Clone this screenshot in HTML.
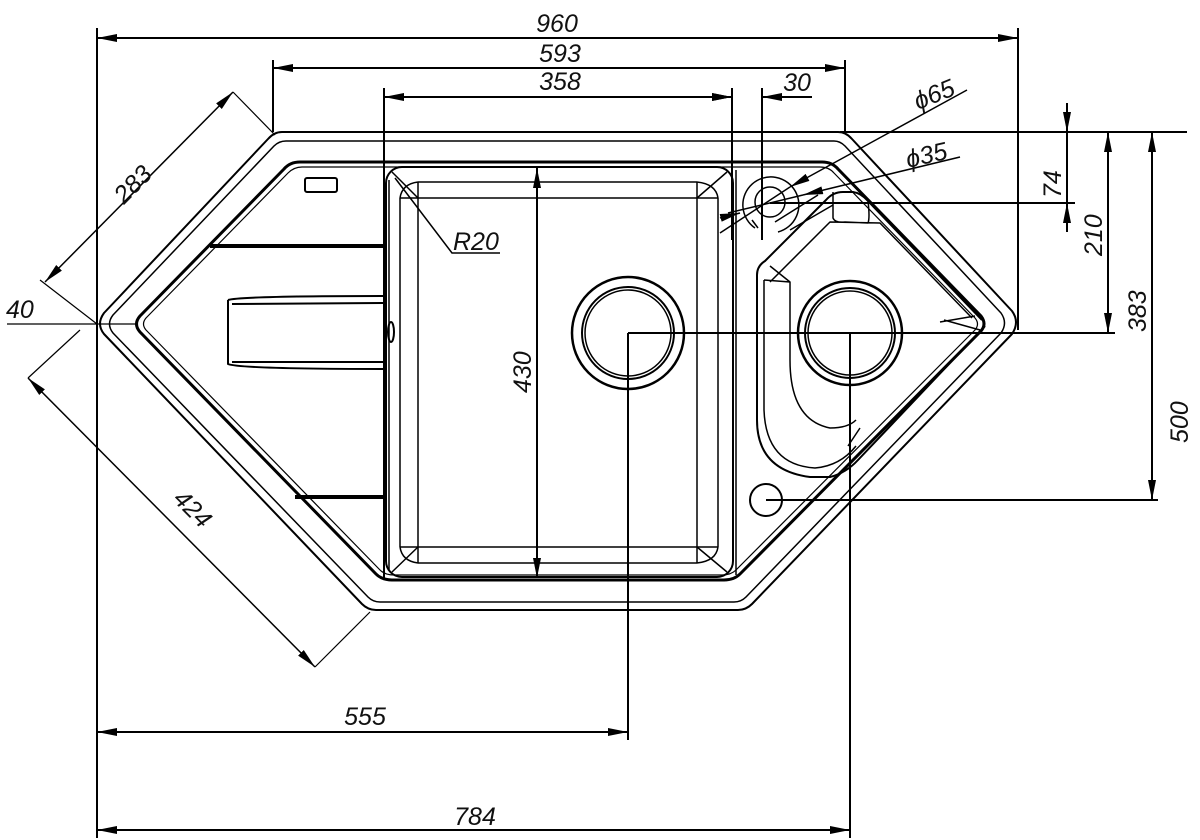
<!DOCTYPE html>
<html><head><meta charset="utf-8"><style>
html,body{margin:0;padding:0;background:#fff;}
svg{display:block;}
text{font-family:"Liberation Sans",sans-serif;font-style:italic;font-size:25px;fill:#111;}
</style></head><body>
<svg width="1200" height="840" viewBox="0 0 1200 840" xmlns="http://www.w3.org/2000/svg">
<defs>
<marker id="a" viewBox="0 0 20 8" refX="20" refY="4" markerWidth="20" markerHeight="8" markerUnits="userSpaceOnUse" orient="auto-start-reverse"><path d="M0,0 L20,4 L0,8 z" fill="#000"/></marker>
</defs>
<g fill="none" stroke="#000" stroke-linejoin="round">
<!-- outer rim -->
<path stroke-width="2" d="M282,132 L838,132 Q846,132 852,139 L1012,311 Q1020,322 1012,334 L752,604 Q746,610 738,610 L376,610 Q368,610 362,604 L104,334 Q96,324 104,313 L268,139 Q274,132 282,132 Z"/>
<path stroke-width="1.5" d="M286,141 L834,141 Q840,141 845,146 L1001,313 Q1008,323 1001,333 L746,597 Q741,602 734,602 L380,602 Q373,602 368,597 L113,333 Q106,324 113,315 L274,146 Q279,141 286,141 Z"/>
<!-- recess -->
<path stroke-width="3" d="M300,162 L822,162 Q832,162 838,169 L981,316 Q987,324 981,331 L740,574 Q734,580 724,580 L392,580 Q382,580 376,574 L140,332 Q133,324 140,316 L284,169 Q290,162 300,162 Z"/>
<path stroke-width="1.2" d="M302,167 L820,167 Q829,167 834,173 L975,318 Q980,324 975,330 L736,570 Q731,575 722,575 L394,575 Q385,575 380,570 L146,330 Q141,324 146,318 L288,173 Q294,167 302,167 Z"/>
<!-- drainer -->
<rect x="305" y="178" width="32" height="14" rx="2" stroke-width="2"/>
<line x1="210" y1="246" x2="386" y2="246" stroke-width="4"/>
<line x1="295" y1="497" x2="386" y2="497" stroke-width="4"/>
<path stroke-width="2" d="M228,300 Q240,296 386,296 M228,300 L228,364 Q240,369 386,369 M232,304 L386,303 M232,362 L386,362"/>
<line x1="384" y1="168" x2="384" y2="578" stroke-width="2"/>
<line x1="389" y1="180" x2="389" y2="570" stroke-width="1.5"/>
<ellipse cx="391" cy="332" rx="3" ry="10" stroke-width="2"/>
<!-- main bowl -->
<rect x="386" y="167" width="347" height="410" rx="16" stroke-width="2"/>
<path stroke-width="1.5" d="M400,198 L400,547 M418,182 L418,563 M697,182 L697,563 M718,198 L718,547 M418,182 L697,182 M400,198 L718,198 M400,547 L718,547 M418,563 L697,563"/>
<path stroke-width="1.5" d="M400,198 Q402,184 418,182 M697,182 Q716,184 718,198 M718,547 Q716,561 697,563 M418,563 Q402,561 400,547 M392,172 L418,198 M727,172 L697,198 M392,572 L418,547 M727,572 L697,547"/>
<line x1="736" y1="170" x2="736" y2="575" stroke-width="1.5"/>
<!-- right bowl -->
<path stroke-width="2" d="M757,275 Q757,266 765,261 L826,200 Q833,192 843,192 L853,192 Q861,193 868,201 L982,320 M757,275 L757,420 Q757,470 810,477 L830,477 Q846,473 858,460 L985,326"/>
<path stroke-width="1.5" d="M764,280 L764,410 Q766,465 815,468 Q840,466 856,446 M770,282 L830,222 L880,223 L972,318 M833,192 L833,218 Q835,223 845,222 L868,223 Q870,218 868,201 M764,280 L790,282 L790,360 Q790,420 830,428 Q848,428 856,420 M790,282 L770,266 M860,428 L848,446 M940,322 L975,316 M944,320 L980,330"/>
<path stroke-width="1.5" d="M775,222 L818,195 M790,230 L833,205"/>
<!-- drains -->
<circle cx="628" cy="333" r="56" stroke-width="2.5"/>
<circle cx="628" cy="333" r="46" stroke-width="2"/>
<circle cx="628" cy="333" r="43" stroke-width="1.5"/>
<circle cx="850" cy="333" r="52" stroke-width="2.5"/>
<circle cx="850" cy="333" r="45" stroke-width="2"/>
<circle cx="850" cy="333" r="42" stroke-width="1.5"/>
<circle cx="766" cy="500" r="16" stroke-width="2"/>
<circle cx="770" cy="202" r="15" stroke-width="1.5"/>
<path stroke-width="1.5" d="M755,228 A28,28 0 1,1 778,232 M752,220 L758,228"/>
</g>
<g fill="none" stroke="#000">
<!-- extension lines -->
<path stroke-width="2" d="M97,28 L97,838 M1018,28 L1018,330 M273,60 L273,132 M845,60 L845,132 M384,88 L384,170 M732,88 L732,240 M762,88 L762,240 M840,132 L1187,132 M770,203 L1075,203 M628,333 L1115,333 M766,500 L1158,500 M628,333 L628,740 M850,333 L850,838"/>
<path stroke-width="1.2" d="M7,324 L135,324 M233,92 L275,135 M40,280 L97,324 M315,667 L370,612 M28,378 L80,330"/>
<!-- dims -->
<line x1="97" y1="38" x2="1018" y2="38" stroke-width="2" marker-start="url(#a)" marker-end="url(#a)"/>
<line x1="273" y1="68" x2="845" y2="68" stroke-width="2" marker-start="url(#a)" marker-end="url(#a)"/>
<line x1="384" y1="97" x2="732" y2="97" stroke-width="2" marker-start="url(#a)" marker-end="url(#a)"/>
<line x1="704" y1="97" x2="732" y2="97" stroke-width="2" marker-end="url(#a)"/>
<line x1="812" y1="97" x2="762" y2="97" stroke-width="2" marker-end="url(#a)"/>
<line x1="537" y1="168" x2="537" y2="578" stroke-width="2" marker-start="url(#a)" marker-end="url(#a)"/>
<line x1="1067" y1="103" x2="1067" y2="132" stroke-width="2" marker-end="url(#a)"/>
<line x1="1067" y1="232" x2="1067" y2="203" stroke-width="2" marker-end="url(#a)"/>
<line x1="1067" y1="132" x2="1067" y2="203" stroke-width="2"/>
<line x1="1108" y1="132" x2="1108" y2="333" stroke-width="2" marker-start="url(#a)" marker-end="url(#a)"/>
<line x1="1152" y1="132" x2="1152" y2="500" stroke-width="2" marker-start="url(#a)" marker-end="url(#a)"/>
<line x1="97" y1="732" x2="628" y2="732" stroke-width="2" marker-start="url(#a)" marker-end="url(#a)"/>
<line x1="97" y1="830" x2="850" y2="830" stroke-width="2" marker-start="url(#a)" marker-end="url(#a)"/>
<line x1="45" y1="282" x2="233" y2="92" stroke-width="1.5" marker-start="url(#a)" marker-end="url(#a)"/>
<line x1="28" y1="378" x2="315" y2="667" stroke-width="1.5" marker-start="url(#a)" marker-end="url(#a)"/>
<path stroke-width="1.5" d="M395,178 L452,253 L500,253"/>
<line x1="967" y1="90" x2="790" y2="187" stroke-width="1.5" marker-end="url(#a)"/>
<line x1="790" y1="187" x2="720" y2="233" stroke-width="1.5"/>
<line x1="960" y1="157" x2="803" y2="195" stroke-width="1.5" marker-end="url(#a)"/>
<line x1="803" y1="195" x2="728" y2="213" stroke-width="1.5"/>
<line x1="720" y1="218" x2="740" y2="213" stroke-width="1.5" marker-end="url(#a)"/>
</g>
<g>
<text x="557" y="32" text-anchor="middle">960</text>
<text x="560" y="62" text-anchor="middle">593</text>
<text x="560" y="90" text-anchor="middle">358</text>
<text x="797" y="91" text-anchor="middle">30</text>
<text x="453" y="250">R20</text>
<text x="0" y="0" transform="translate(918,110) rotate(-22)">ϕ65</text>
<text x="0" y="0" transform="translate(908,168) rotate(-13)">ϕ35</text>
<text x="0" y="0" transform="translate(1061,198) rotate(-90)">74</text>
<text x="0" y="0" transform="translate(1102,256) rotate(-90)">210</text>
<text x="0" y="0" transform="translate(1146,332) rotate(-90)">383</text>
<text x="0" y="0" transform="translate(1188,443) rotate(-90)">500</text>
<text x="0" y="0" transform="translate(531,393) rotate(-90)">430</text>
<text x="0" y="0" transform="translate(124,205) rotate(-45)">283</text>
<text x="0" y="0" transform="translate(172,500) rotate(45)">424</text>
<text x="6" y="318">40</text>
<text x="365" y="725" text-anchor="middle">555</text>
<text x="475" y="825" text-anchor="middle">784</text>
</g>
</svg>
</body></html>
